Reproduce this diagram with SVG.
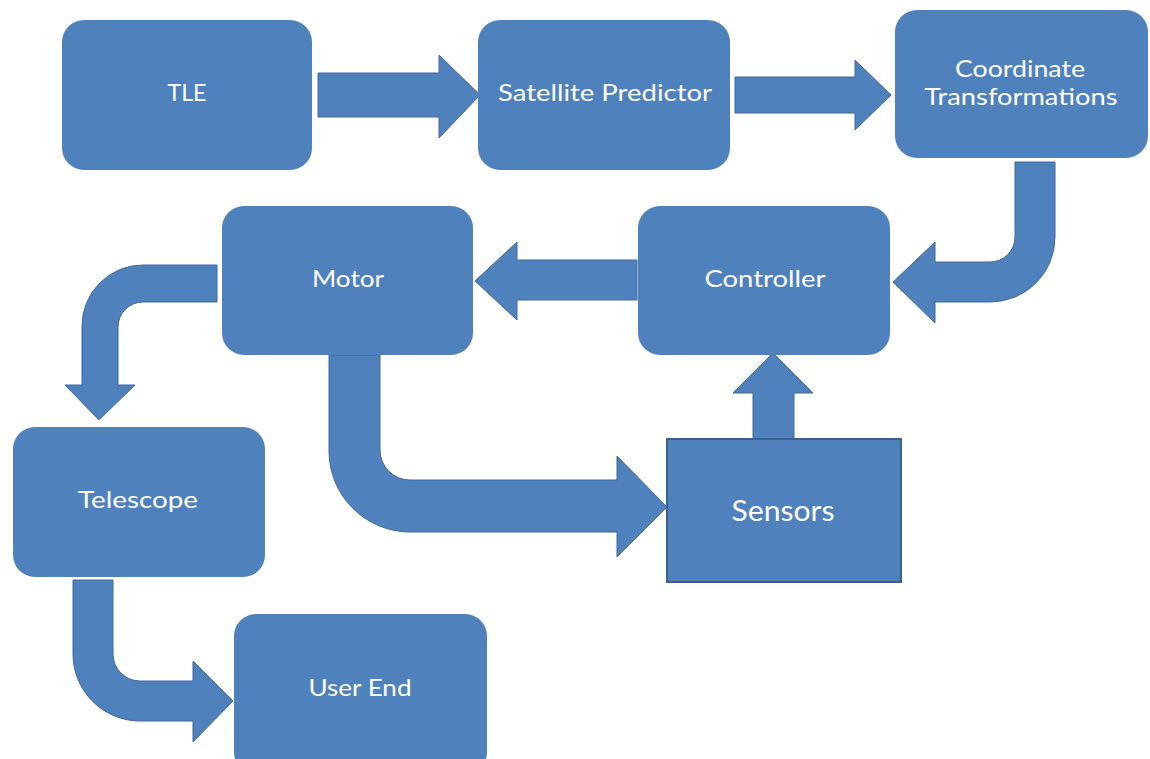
<svg xmlns="http://www.w3.org/2000/svg" width="1150" height="759" viewBox="0 0 1150 759">
  <style>
    .box { fill: #4F81BD; }
    .sq { fill: #4F81BD; stroke: #3A6090; stroke-width: 2; }
    .arr { fill: #4F81BD; stroke: #41699B; stroke-width: 1; stroke-linejoin: miter; }
    .lbl { fill: #FFFFFF; font-family: Lato, "Open Sans", "Liberation Sans", sans-serif; font-size: 24px; text-anchor: middle; }
    .big { font-size: 28px; }
  </style>
  <rect width="1150" height="759" fill="#FFFFFF"/>

  <!-- connectors -->
  <g id="connectors">
    <!-- TLE to Satellite Predictor -->
    <path class="arr" d="M318,73 L439,73 L439,55 L480,95 L439,138 L439,117 L318,117 Z"/>
    <!-- Satellite Predictor to Coordinate Transformations -->
    <path class="arr" d="M735,77 L855,77 L855,60 L891,95 L855,130 L855,113 L735,113 Z"/>
    <!-- Coordinate Transformations down and round to Controller -->
    <path class="arr" d="M1015,162 L1055,162 L1055,237 A65,65 0 0 1 990,302 L935,302 L935,323 L893,282 L935,242 L935,262 L990,262 A25,25 0 0 0 1015,237 Z"/>
    <!-- Controller to Motor -->
    <path class="arr" d="M637,260 L517,260 L517,242 L475,281 L517,320 L517,300 L637,300 Z"/>
    <!-- Motor round and down to Telescope -->
    <path class="arr" d="M217,265 L143,265 A61,61 0 0 0 82,326 L82,385 L65,385 L99,420 L135,385 L118,385 L118,327 A25,25 0 0 1 143,302 L217,302 Z"/>
    <!-- Motor down and round to Sensors -->
    <path class="arr" d="M329,355 L380,355 L380,450 A30,30 0 0 0 410,480 L617,480 L617,456 L667,507 L617,557 L617,532 L410,532 A81,81 0 0 1 329,451 Z"/>
    <!-- Sensors up to Controller -->
    <path class="arr" d="M753,439 L794,439 L794,393 L813,393 L773,353 L733,393 L753,393 Z"/>
    <!-- Telescope down and round to User End -->
    <path class="arr" d="M73,580 L113,580 L113,654 A27,27 0 0 0 140,681 L193,681 L193,661 L233,701 L193,742 L193,721 L140,721 A67,67 0 0 1 73,654 Z"/>
  </g>

  <g id="tle">
    <rect class="box" x="62" y="20" width="250" height="150" rx="22"/>
    <text class="lbl" x="187" y="101" textLength="39" lengthAdjust="spacingAndGlyphs">TLE</text>
  </g>
  <g id="satellite-predictor">
    <rect class="box" x="478" y="20" width="252" height="150" rx="22"/>
    <text class="lbl" x="605" y="101" textLength="214" lengthAdjust="spacingAndGlyphs">Satellite Predictor</text>
  </g>
  <g id="coordinate-transformations">
    <rect class="box" x="895" y="10" width="253" height="148" rx="22"/>
    <text class="lbl" x="1020" y="77" textLength="130" lengthAdjust="spacingAndGlyphs">Coordinate</text>
    <text class="lbl" x="1021" y="105" textLength="193" lengthAdjust="spacingAndGlyphs">Transformations</text>
  </g>
  <g id="motor">
    <rect class="box" x="222" y="206" width="251" height="149" rx="22"/>
    <text class="lbl" x="348" y="287" textLength="72" lengthAdjust="spacingAndGlyphs">Motor</text>
  </g>
  <g id="controller">
    <rect class="box" x="638" y="206" width="252" height="149" rx="22"/>
    <text class="lbl" x="765" y="287" textLength="121" lengthAdjust="spacingAndGlyphs">Controller</text>
  </g>
  <g id="telescope">
    <rect class="box" x="13" y="427" width="252" height="150" rx="22"/>
    <text class="lbl" x="138" y="508" textLength="120" lengthAdjust="spacingAndGlyphs">Telescope</text>
  </g>
  <g id="sensors">
    <rect class="sq" x="667" y="439" width="234" height="143"/>
    <text class="lbl big" x="783" y="521" textLength="103" lengthAdjust="spacingAndGlyphs">Sensors</text>
  </g>
  <g id="user-end">
    <rect class="box" x="234" y="614" width="253" height="160" rx="22"/>
    <text class="lbl" x="360" y="696" textLength="103" lengthAdjust="spacingAndGlyphs">User End</text>
  </g>
</svg>
